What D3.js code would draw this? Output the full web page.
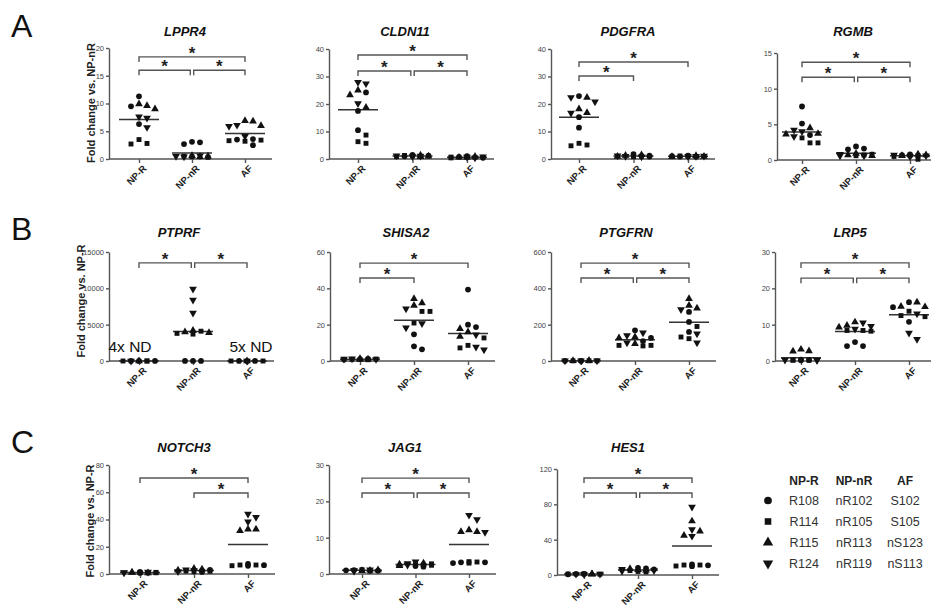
<!DOCTYPE html>
<html><head><meta charset="utf-8">
<script src="https://cdn.jsdelivr.net/npm/d3@7"></script>
<style>body{margin:0;background:#fff}svg{display:block}</style>
</head><body><svg id="c" width="933" height="607"></svg>
<script>
// ---------------- DATA ----------------
const groups = ["NP-R", "NP-nR", "AF"];
const genes = ["LPPR4","CLDN11","PDGFRA","RGMB","PTPRF","SHISA2","PTGFRN","LRP5","NOTCH3","JAG1","HES1"];
const yMax  = [20, 40, 40, 15, 15000, 60, 600, 30, 80, 30, 120];
const yStep = [5, 10, 10, 5, 5000, 20, 200, 10, 20, 10, 40];
const rowOfGene = [0,0,0,0,1,1,1,1,2,2,2];
const rowLetters = ["A","B","C"];
const yLabels = ["Fold change vs. NP-nR","Fold change vs. NP-R","Fold change vs. NP-R"];

// values per group: [circle x3, square x3, triangle-up x3, triangle-down x3]; null = not detected
const LPPR4 = [
  [11.3, 9.5, 6.3, 3.5, 2.7, 2.8, 9.9, 9.6, 9.0, 7.6, 7.4, 5.7],
  [3.0, 2.7, 3.1, 0.3, 0.4, 0.5, 0.6, 0.5, 0.4, 0.5, 0.6, 0.4],
  [2.5, 3.5, 3.6, 3.4, 3.3, 3.2, 6.8, 6.9, 6.0, 5.9, 6.1, 4.1]];
const CLDN11 = [
  [24.2, 17.5, 10.5, 8.7, 5.7, 6.3, 23.3, 25.0, 18.7, 27.4, 27.9, 20.2],
  [1.2, 1.0, 1.5, 1.3, 0.9, 1.1, 1.4, 0.8, 1.0, 1.2, 0.9, 1.1],
  [0.5, 0.8, 1.0, 0.4, 0.6, 0.7, 0.9, 0.5, 0.6, 0.8, 0.4, 0.7]];
const PDGFRA = [
  [22.9, 15.2, 11.4, 5.7, 4.8, 5.1, 22.4, 16.8, 18.2, 22.4, 20.8, 16.7],
  [1.2, 1.8, 0.9, 1.0, 1.1, 0.8, 1.3, 1.5, 0.9, 1.0, 1.2, 0.8],
  [1.0, 1.2, 0.9, 0.8, 1.1, 1.0, 0.9, 1.2, 0.8, 1.0, 1.1, 0.9]];
const RGMB = [
  [7.5, 5.1, 3.5, 3.1, 2.4, 2.4, 4.5, 3.6, 3.7, 4.2, 4.0, 3.3],
  [1.6, 1.9, 1.5, 0.7, 0.6, 0.8, 0.9, 0.6, 0.7, 0.6, 0.8, 0.6],
  [0.7, 0.6, 0.8, 0.5, 0.1, 0.6, 0.7, 0.6, 0.8, 0.7, 0.6, 0.5]];
const PTPRF = [
  [1.0, 1.2, 0.8, 0.9, 1.1, 1.0, 1.0, null, null, null, null, 1.1],
  [0.9, 1.0, 1.1, 3800, 3700, 4100, 4000, 4200, 3900, 6600, 8400, 9900],
  [1.0, 1.0, 1.0, 1.0, 1.0, null, 1.0, null, null, 1.0, null, null]];
const SHISA2 = [
  [1.2, 0.8, 1.0, 0.9, 1.1, 0.7, 1.3, 0.8, 1.0, 1.1, 0.9, 1.2],
  [14.7, 8.1, 6.4, 27.3, 27.3, 20.9, 30.6, 31.9, 34.3, 28.8, 20.6, 18.3],
  [39.3, 18.7, 20.0, 12.7, 7.2, 8.6, 17.8, 16.0, 13.5, 6.2, 7.7, 14.5]];
const PTGFRN = [
  [1.0, 1.3, 0.8, 0.9, 1.1, 1.2, 0.7, 1.0, 1.2, 0.9, 1.1, 0.8],
  [169, 127, 110, 86, 83, 86, 132, 127, 95, 156, 140, 100],
  [270, 215, 160, 190, 132, 123, 306, 343, 290, 283, 101, 150]];
const LRP5 = [
  [0.3, 0.2, 0.4, 0.2, 0.3, 0.2, 2.75, 2.7, 3.2, 0.3, 0.2, 0.25],
  [5.2, 4.1, 4.1, 8.4, 8.4, 8.2, 10.7, 9.8, 9.3, 10.5, 9.6, 8.8],
  [16.2, 14.8, 10.8, 13.7, 12.2, 12.5, 16.2, 15.0, 14.9, 13.0, 6.0, 7.7]];
const NOTCH3 = [
  [1.0, 1.5, 0.8, 1.2, 0.9, 1.1, 1.3, 0.7, 1.0, 1.4, 0.9, 1.2],
  [1.5, 2.5, 3.0, 2.0, 1.8, 2.2, 3.5, 2.8, 4.0, 2.6, 1.9, 3.2],
  [6.5, 6.0, 7.5, 6.6, 6.1, 6.6, 32.8, 31.8, 32.8, 38.4, 41.6, 44.0]];
const JAG1 = [
  [0.9, 1.1, 1.0, 0.8, 1.2, 1.0, 0.9, 1.1, 1.0, 1.2, 0.8, 1.0],
  [2.2, 2.5, 2.0, 2.8, 2.4, 2.6, 3.0, 2.3, 2.7, 3.4, 2.9, 2.5],
  [3.2, 3.0, 3.2, 3.4, 3.0, 3.3, 12.1, 11.65, 11.65, 15.0, 16.2, 11.5]];
const HES1 = [
  [1.2, 0.8, 1.0, 1.5, 0.9, 1.1, 0.7, 1.3, 1.0, 0.8, 1.2, 1.0],
  [7.5, 8.0, 6.5, 4.0, 5.0, 3.5, 6.0, 7.0, 5.5, 4.5, 6.5, 5.0],
  [11, 10, 12, 11.3, 10.2, 11.3, 61, 49.6, 44.7, 77, 51.5, 44]];
const geneValues = [LPPR4, CLDN11, PDGFRA, RGMB, PTPRF, SHISA2, PTGFRN, LRP5, NOTCH3, JAG1, HES1];

// significance brackets: [fromGroup, toGroup, level in data units]
const sigLPPR4  = [[0,2,18.4],[0,1,16.0],[1,2,16.0]];
const sigCLDN11 = [[0,2,37.8],[0,1,32.0],[1,2,32.0]];
const sigPDGFRA = [[0,2,35.3],[0,1,30.2]];
const sigRGMB   = [[0,2,13.7],[0,1,11.6],[1,2,11.6]];
const sigPTPRF  = [[0,1,13500],[1,2,13500]];
const sigSHISA2 = [[0,2,53.9],[0,1,45.7]];
const sigPTGFRN = [[0,2,539],[0,1,457],[1,2,457]];
const sigLRP5   = [[0,2,27],[0,1,22.8],[1,2,22.8]];
const sigNOTCH3 = [[0,2,70.5],[1,2,59.4]];
const sigJAG1   = [[0,2,26.4],[0,1,22.3],[1,2,22.3]];
const sigHES1   = [[0,2,109.8],[0,1,92.8],[1,2,92.8]];
const geneSig = [sigLPPR4, sigCLDN11, sigPDGFRA, sigRGMB, sigPTPRF, sigSHISA2, sigPTGFRN, sigLRP5, sigNOTCH3, sigJAG1, sigHES1];

// not-detected annotations (PTPRF): [gene index, group index, text]
const ndNotes = [[4, 0, "4x ND"], [4, 2, "5x ND"]];

// legend
const legendHeaders = ["NP-R", "NP-nR", "AF"];
const legendDonors = [
  ["R108", "nR102", "S102"],
  ["R114", "nR105", "S105"],
  ["R115", "nR113", "nS123"],
  ["R124", "nR119", "nS113"]];

// ---------------- LAYOUT ----------------
const axisX    = [109, 329, 551, 777, 109, 330, 551, 775, 109, 329, 557];
const plotY0   = [159, 159, 159, 160, 361, 361, 361, 361, 574, 574, 575];
const plotYTop = [48, 49, 49, 53, 252, 252, 252, 252, 465, 465, 469];
const catStart = [30, 29, 28, 25, 30, 30, 30, 26, 31, 33, 27];
const catEnd   = [136, 138, 137, 133, 138, 138, 138, 134, 139, 140, 135];
const titleOff = [76, 76, 77, 76, 70, 76, 75, 75, 75, 76, 71];
const rowTitleY = [36, 237, 452];
const rowLetterY = [37, 240, 453];
const rowYLabelCy = [103, 301, 521];
const rowYLabelX = [95, 85, 94];

const FONT = "'Liberation Sans', Arial, Helvetica, sans-serif";
const AXC = "#555";
const svg = d3.select("#c");
svg.append("rect").attr("width", 933).attr("height", 607).attr("fill", "#fff");

const shapeTypes = [d3.symbolCircle, d3.symbolSquare, d3.symbolTriangle, d3.symbolTriangle];
const shapeSizes = [26, 24, 26, 26];
function sym(g, shapeIdx, x, y, scale) {
  const k = scale || 1;
  g.append("path")
    .attr("d", d3.symbol().type(shapeTypes[shapeIdx]).size(shapeSizes[shapeIdx] * k)())
    .attr("transform", `translate(${x},${y})` + (shapeIdx === 3 ? " rotate(180)" : ""))
    .attr("fill", "#111");
}

function swarm(vals, y, cx) {
  const pts = vals.map((v, i) => ({v, shape: Math.floor(i / 3)})).filter(p => p.v != null);
  const order = pts.slice().sort((a, b) => b.v - a.v);
  const placed = [];
  const s = 8;
  for (const p of order) {
    p.py = y(p.v);
    let chosen = null, bestPx = cx, bestScore = -1;
    for (const k of [0, 1, -1, 2, -2]) {
      const px = cx + k * s;
      let minD = Infinity;
      for (const q of placed) { const d = Math.hypot(q.px - px, q.py - p.py); if (d < minD) minD = d; }
      if (minD >= 6.5) { chosen = px; break; }
      if (minD > bestScore) { bestScore = minD; bestPx = px; }
    }
    p.px = chosen != null ? chosen : bestPx;
    placed.push(p);
  }
  return pts;
}

// row letters and y labels
rowLetters.forEach((L, r) => {
  svg.append("text").attr("x", 11).attr("y", rowLetterY[r]).text(L)
    .attr("font-family", FONT).attr("font-size", 32).attr("fill", "#111");
  svg.append("text").text(yLabels[r])
    .attr("transform", `translate(${rowYLabelX[r]},${rowYLabelCy[r]}) rotate(-90)`)
    .attr("text-anchor", "middle").attr("font-family", FONT)
    .attr("font-weight", "bold").attr("font-size", 11).attr("fill", "#222");
});

genes.forEach((gene, gi) => {
  const ax = axisX[gi];
  const g = svg.append("g");
  const y = d3.scaleLinear().domain([0, yMax[gi]]).range([plotY0[gi], plotYTop[gi]]);
  const x = d3.scalePoint().domain(groups).range([ax + catStart[gi], ax + catEnd[gi]]);
  const xEnd = Math.min(931, x("AF") + 27);

  // title
  g.append("text").attr("x", ax + titleOff[gi]).attr("y", rowTitleY[rowOfGene[gi]])
    .attr("text-anchor", "middle").text(gene)
    .attr("font-family", FONT).attr("font-weight", "bold").attr("font-style", "italic")
    .attr("font-size", 13).attr("fill", "#111");

  // y axis
  const ya = g.append("g").attr("transform", `translate(${ax},0)`)
    .call(d3.axisLeft(y).tickValues(d3.range(0, yMax[gi] + 1e-9, yStep[gi]))
      .tickSize(3).tickSizeOuter(0).tickPadding(2).tickFormat(d3.format("d")));
  ya.selectAll("path,line").attr("stroke", AXC).attr("stroke-width", 1.4);
  ya.selectAll("text").attr("font-family", FONT).attr("font-size", 7.5).attr("fill", "#444");

  // x axis
  g.append("line").attr("x1", ax).attr("x2", xEnd).attr("y1", y(0)).attr("y2", y(0))
    .attr("stroke", AXC).attr("stroke-width", 1.4);
  const xa = g.append("g").attr("transform", `translate(0,${y(0)})`)
    .call(d3.axisBottom(x).tickSize(4).tickSizeOuter(0).tickFormat(""));
  xa.select(".domain").remove();
  xa.selectAll("line").attr("stroke", AXC).attr("stroke-width", 1.4);
  groups.forEach(grp => {
    g.append("text").text(grp)
      .attr("transform", `translate(${x(grp) + 3},${y(0) + 5}) rotate(-45)`)
      .attr("text-anchor", "end").attr("dominant-baseline", "hanging")
      .attr("font-family", FONT).attr("font-weight", "bold").attr("font-size", 9.5).attr("fill", "#222");
  });

  // points + mean
  geneValues[gi].forEach((vals, k) => {
    const cx = x(groups[k]);
    const pts = swarm(vals, y, cx);
    const m = d3.mean(vals.filter(v => v != null));
    g.append("line").attr("x1", cx - 20).attr("x2", cx + 20).attr("y1", y(m)).attr("y2", y(m))
      .attr("stroke", "#333").attr("stroke-width", 1.5);
    pts.forEach(p => sym(g, p.shape, p.px, p.py));
  });

  // significance brackets
  const sig = geneSig[gi];
  sig.forEach(([a, b, lev]) => {
    const shareA = sig.some(s2 => s2[2] === lev && s2[1] === a);
    const shareB = sig.some(s2 => s2[2] === lev && s2[0] === b);
    const x1 = x(groups[a]) + (shareA ? 1.7 : 0);
    const x2 = x(groups[b]) - (shareB ? 1.7 : 0);
    const yy = y(lev);
    g.append("path").attr("d", `M${x1},${yy + 5}V${yy}H${x2}V${yy + 5}`)
      .attr("fill", "none").attr("stroke", AXC).attr("stroke-width", 1.4);
    g.append("text").attr("x", (x1 + x2) / 2).attr("y", yy + 2).text("*")
      .attr("text-anchor", "middle").attr("font-family", FONT).attr("font-weight", "bold")
      .attr("font-size", 17).attr("fill", "#222");
  });

  ndNotes.filter(n => n[0] === gi).forEach(([_, k, txt]) => {
    g.append("text").attr("x", x(groups[k]) + (k === 0 ? -9 : 4)).attr("y", y(0) - 9)
      .attr("text-anchor", "middle").text(txt)
      .attr("font-family", FONT).attr("font-size", 15.5).attr("fill", "#111");
  });
});

// legend
const legColX = [804, 854, 905];
const lg = svg.append("g");
legendHeaders.forEach((h, i) => {
  lg.append("text").attr("x", legColX[i]).attr("y", 485).attr("text-anchor", "middle").text(h)
    .attr("font-family", FONT).attr("font-weight", "bold").attr("font-size", 12).attr("fill", "#222");
});
legendDonors.forEach((row, r) => {
  const yy = 505 + r * 21;
  sym(lg, r, 768, yy - 4.5, 1.8);
  row.forEach((t, i) => {
    lg.append("text").attr("x", legColX[i]).attr("y", yy).attr("text-anchor", "middle").text(t)
      .attr("font-family", FONT).attr("font-size", 12.5).attr("fill", "#333");
  });
});
</script>
</body></html>
